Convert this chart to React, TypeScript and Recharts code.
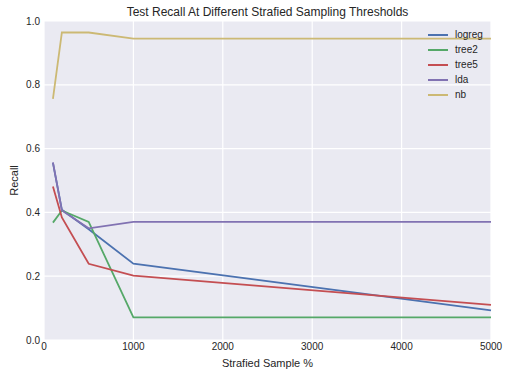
import { LineChart, Line, XAxis, YAxis, CartesianGrid } from 'recharts';

// sample size thresholds (x) and recall per classifier
const sampleSizes = [100, 200, 500, 1000, 5000];
const logreg = [0.555, 0.408, 0.347, 0.239, 0.093];
const tree2 = [0.368, 0.406, 0.370, 0.071, 0.071];
const tree5 = [0.481, 0.384, 0.239, 0.202, 0.110];
const lda = [0.557, 0.406, 0.350, 0.370, 0.370];
const nb = [0.756, 0.964, 0.964, 0.945, 0.945];

const xTicks = [0, 1000, 2000, 3000, 4000, 5000];
const yTicks = [0, 0.2, 0.4, 0.6, 0.8, 1.0];

const series = [
  { key: 'logreg', color: '#4C72B0' },
  { key: 'tree2', color: '#55A868' },
  { key: 'tree5', color: '#C44E52' },
  { key: 'lda', color: '#8172B2' },
  { key: 'nb', color: '#CCB974' },
];

const data = sampleSizes.map((x, i) => ({
  x,
  logreg: logreg[i],
  tree2: tree2[i],
  tree5: tree5[i],
  lda: lda[i],
  nb: nb[i],
}));

const FONT = '"Liberation Sans", Arial, sans-serif';
const INK = '#262626';

// seaborn-style frameless legend, drawn over the plot
function LegendBox() {
  return (
    <div style={{ position: 'absolute', left: 428, top: 27, fontFamily: FONT, fontSize: 10, color: INK, pointerEvents: 'none' }}>
      {series.map((s) => (
        <div key={s.key} style={{ display: 'flex', alignItems: 'center', height: 15 }}>
          <span style={{ display: 'inline-block', width: 20, height: 2, background: s.color, marginRight: 7 }} />
          <span>{s.key}</span>
        </div>
      ))}
    </div>
  );
}

export default function App() {
  return (
    <div style={{ position: 'absolute', left: 0, top: 0, width: 505, height: 371, background: '#fff', fontFamily: FONT }}>
      <div
        style={{
          position: 'absolute', left: 44, width: 447, top: 5, textAlign: 'center',
          fontSize: 12, lineHeight: '14px', color: INK,
        }}
      >
        Test Recall At Different Strafied Sampling Thresholds
      </div>
      <LineChart width={505} height={371} data={data} margin={{ top: 21, right: 14, left: 0, bottom: 0 }}>
        <CartesianGrid fill="#EAEAF2" stroke="#ffffff" strokeWidth={1.2} />
        <XAxis
          dataKey="x"
          type="number"
          domain={[0, 5000]}
          ticks={xTicks}
          tickLine={false}
          axisLine={false}
          tickSize={0}
          tickMargin={3}
          height={31}
          tick={{ fontSize: 10, fill: INK, fontFamily: FONT }}
          label={{ value: 'Strafied Sample %', position: 'insideBottom', offset: 4, style: { fontSize: 11, fill: INK, fontFamily: FONT } }}
        />
        <YAxis
          type="number"
          domain={[0, 1]}
          ticks={yTicks}
          tickFormatter={(v: number) => v.toFixed(1)}
          tickLine={false}
          axisLine={false}
          tickSize={0}
          tickMargin={4}
          width={44}
          tick={{ fontSize: 10, fill: INK, fontFamily: FONT }}
          label={{
            content: (props: any) => {
              const vb = props.viewBox || { x: 0, y: 21, width: 44, height: 319 };
              const cx = vb.x + 14;
              const cy = vb.y + vb.height / 2;
              return (
                <text x={cx} y={cy} transform={`rotate(-90 ${cx} ${cy})`} textAnchor="middle" dominantBaseline="central"
                  style={{ fontSize: 11, fill: INK, fontFamily: FONT }}>
                  Recall
                </text>
              );
            },
          }}
        />
        {series.map((s) => (
          <Line
            key={s.key}
            type="linear"
            dataKey={s.key}
            stroke={s.color}
            strokeWidth={1.8}
            dot={false}
            activeDot={false}
            isAnimationActive={false}
          />
        ))}
      </LineChart>
      <LegendBox />
    </div>
  );
}
